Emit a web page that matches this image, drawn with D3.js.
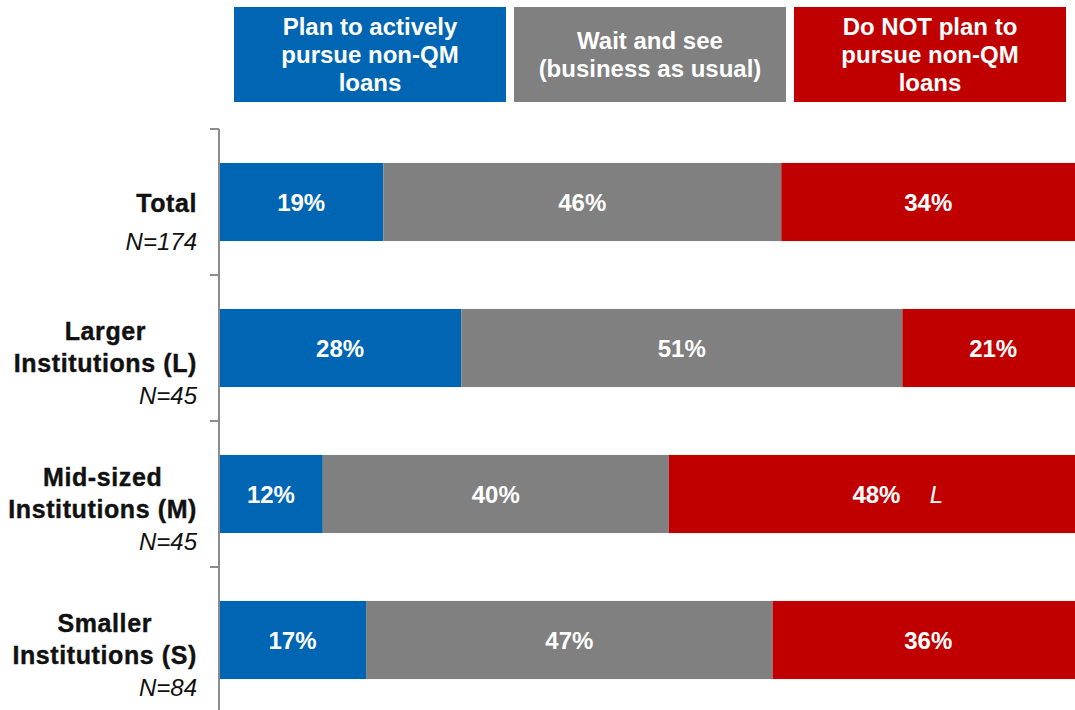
<!DOCTYPE html>
<html>
<head>
<meta charset="utf-8">
<script src="https://cdn.jsdelivr.net/npm/d3@7"></script>
<style>
  html, body { margin: 0; padding: 0; background: #fff; overflow: hidden; }
  svg { display: block; font-family: Arial, "Liberation Sans", sans-serif; }
</style>
</head>
<body>
<svg id="chart" width="1075" height="710"></svg>
<script>
// Survey groups (rows) and their sample sizes
const groups = ["Total", "Larger Institutions (L)", "Mid-sized Institutions (M)", "Smaller Institutions (S)"];
const groupLines = [["Total"], ["Larger", "Institutions (L)"], ["Mid-sized", "Institutions (M)"], ["Smaller", "Institutions (S)"]];
const sampleSizes = ["N=174", "N=45", "N=45", "N=84"];

// Response options (stack order) and their header wording
const responses = ["pursue", "wait", "notPursue"];
const responseHeaders = [
  ["Plan to actively", "pursue non-QM", "loans"],
  ["Wait and see", "(business as usual)"],
  ["Do NOT plan to", "pursue non-QM", "loans"]
];
const responseColors = ["#0066B3", "#808080", "#C00000"];

// Percent of respondents per group
const pursueValues = [19, 28, 12, 17];
const waitValues = [46, 51, 40, 47];
const notPursueValues = [34, 21, 48, 36];

// Significance markers (letter of the group that differs), per group for the last option
const notPursueSig = ["", "", "L", ""];

const rows = groups.map((g, i) => ({
  group: g,
  pursue: pursueValues[i],
  wait: waitValues[i],
  notPursue: notPursueValues[i],
  sig: notPursueSig[i]
}));

const svg = d3.select("#chart");

const axisX = 219;
const x = d3.scaleLinear().domain([0, 100]).range([axisX, 1084]);

const pad = 0.465;
const y = d3.scaleBand()
  .domain(groups)
  .range([129, 129 + 146 * groups.length])
  .paddingInner(pad)
  .paddingOuter(pad / 2);

const color = d3.scaleOrdinal().domain(responses).range(responseColors);

const stacked = d3.stack().keys(responses)(rows);

// Bars
const layers = svg.append("g").selectAll("g")
  .data(stacked)
  .join("g")
  .attr("fill", d => color(d.key));

layers.selectAll("rect")
  .data(d => d.map(s => ({ key: d.key, s })))
  .join("rect")
  .attr("x", d => x(d.s[0]))
  .attr("y", d => y(d.s.data.group))
  .attr("width", d => x(d.s[1]) - x(d.s[0]))
  .attr("height", y.bandwidth());

// Value labels
layers.selectAll("text")
  .data(d => d.map(s => ({ key: d.key, s })))
  .join("text")
  .attr("x", d => (x(d.s[0]) + x(d.s[1])) / 2)
  .attr("y", d => y(d.s.data.group) + y.bandwidth() / 2 + 9)
  .attr("text-anchor", "middle")
  .attr("fill", "#fff")
  .attr("font-weight", "bold")
  .attr("font-size", 24)
  .text(d => d.s.data[d.key] + "%");

// Significance letters next to the last segment's label
const lastLayer = stacked[stacked.length - 1];
svg.append("g").selectAll("text")
  .data(lastLayer.filter(s => s.data.sig))
  .join("text")
  .attr("x", s => (x(s[0]) + x(s[1])) / 2 + 60)
  .attr("y", s => y(s.data.group) + y.bandwidth() / 2 + 9)
  .attr("text-anchor", "middle")
  .attr("fill", "#fff")
  .attr("font-style", "italic")
  .attr("font-size", 24)
  .text(s => s.data.sig);

// Category axis: a vertical rule with ticks between the groups
const axisG = svg.append("g").attr("stroke", "#8c8c8c").attr("stroke-width", 2);
const step = y.step();
const boundaries = groups.map(g => y(g) - step * pad / 2).concat([y(groups[groups.length - 1]) + y.bandwidth() + step * pad / 2]);
axisG.append("line")
  .attr("x1", axisX).attr("x2", axisX)
  .attr("y1", boundaries[0]).attr("y2", boundaries[boundaries.length - 1]);
axisG.selectAll("line.tick")
  .data(boundaries)
  .join("line")
  .attr("class", "tick")
  .attr("x1", axisX - 9).attr("x2", axisX)
  .attr("y1", b => b).attr("y2", b => b);

// Group labels (bold, centred lines) with italic sample size underneath
const labelRight = 197;
const labels = svg.append("g");
groups.forEach((g, i) => {
  const cy = y(g) + y.bandwidth() / 2;
  const lines = groupLines[i];
  const gl = labels.append("g");
  const single = lines.length === 1;
  const nameY = single ? [cy + 10] : [cy - 8, cy + 24];
  const texts = lines.map((ln, j) => gl.append("text")
    .attr("y", nameY[j])
    .attr("font-weight", "bold")
    .attr("font-size", 25)
    .attr("letter-spacing", 0.6)
    .attr("fill", "#111")
    .attr("stroke", "#111")
    .attr("stroke-width", 0.4)
    .attr("text-anchor", "middle")
    .text(ln));
  const widths = texts.map(t => t.node().getComputedTextLength());
  const maxW = d3.max(widths);
  texts.forEach(t => t.attr("x", labelRight - maxW / 2));
  gl.append("text")
    .attr("x", labelRight)
    .attr("y", single ? cy + 48 : cy + 56)
    .attr("text-anchor", "end")
    .attr("font-style", "italic")
    .attr("font-size", 24)
    .attr("fill", "#111")
    .text(sampleSizes[i]);
});

// Legend header boxes above the bars
const header = svg.append("g");
const boxX = [234, 514, 794];
const boxW = 272, boxTop = 7, boxH = 95;
responses.forEach((r, i) => {
  const hg = header.append("g");
  hg.append("rect")
    .attr("x", boxX[i]).attr("y", boxTop)
    .attr("width", boxW).attr("height", boxH)
    .attr("fill", color(r));
  const lines = responseHeaders[i];
  const lh = 28;
  const c = boxTop + boxH / 2;
  lines.forEach((ln, j) => {
    hg.append("text")
      .attr("x", boxX[i] + boxW / 2)
      .attr("y", c + (j - (lines.length - 1) / 2) * lh + 8.5)
      .attr("text-anchor", "middle")
      .attr("fill", "#fff")
      .attr("font-weight", "bold")
      .attr("font-size", 24)
      .text(ln);
  });
});
</script>
</body>
</html>
